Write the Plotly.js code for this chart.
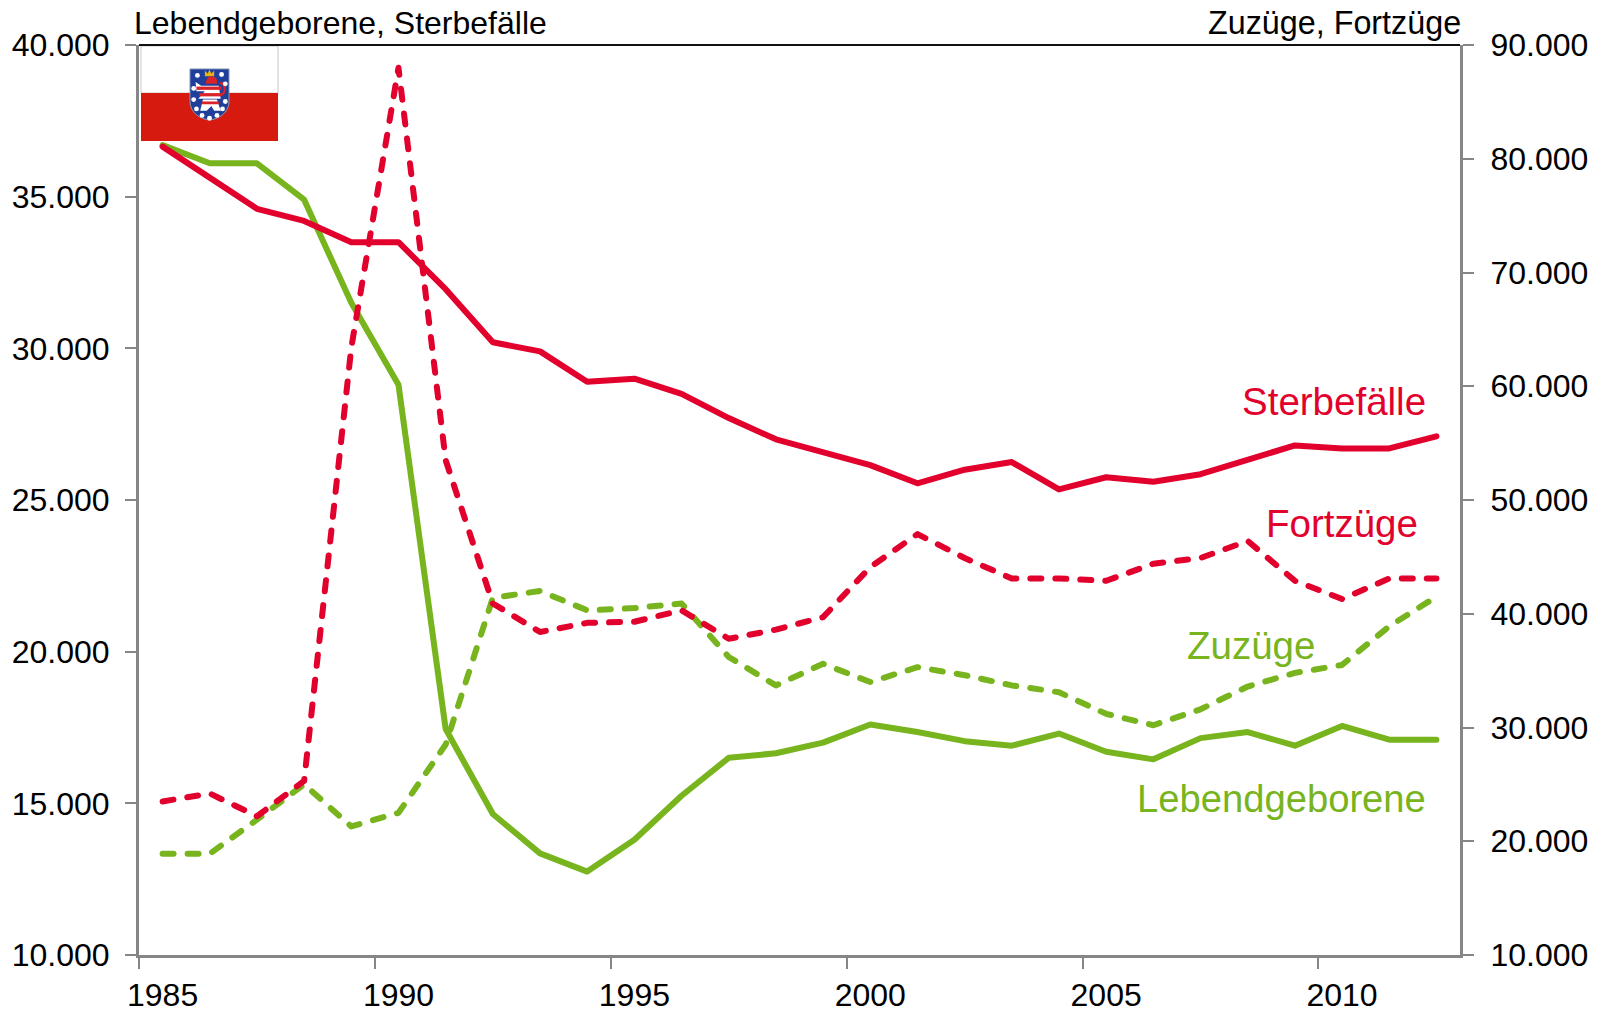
<!DOCTYPE html>
<html><head><meta charset="utf-8">
<script src="https://cdn.plot.ly/plotly-3.0.1.min.js"></script>
<style>html,body{margin:0;padding:0;background:#fff}
.scatterlayer .js-line{stroke-linecap:round;stroke-linejoin:round}</style></head>
<body><div id="chart" style="width:1605px;height:1012px"></div>
<script>
const years = [1985,1986,1987,1988,1989,1990,1991,1992,1993,1994,1995,1996,1997,1998,1999,2000,2001,2002,2003,2004,2005,2006,2007,2008,2009,2010,2011,2012].map(String);
const lebendgeborene = [36700,36100,36100,34900,31500,28800,17450,14650,13350,12750,13800,15250,16500,16650,17000,17600,17350,17050,16900,17300,16700,16450,17150,17350,16900,17550,17100,17100];
const sterbefaelle = [36650,35650,34600,34200,33500,33500,31950,30200,29900,28900,29000,28500,27700,27000,26600,26150,25550,26000,26250,25350,25750,25600,25850,26300,26800,26700,26700,27100];
const zuzuege = [18900,18900,21900,25000,21300,22500,28500,41400,42000,40300,40500,40900,36200,33700,35600,34000,35300,34600,33700,33100,31200,30200,31600,33600,34800,35500,38900,41500];
const fortzuege = [23500,24200,22200,25300,63400,88000,53500,40900,38400,39200,39300,40300,37800,38600,39700,44100,47000,44900,43100,43100,42900,44400,44900,46400,42900,41300,43100,43100];
const leftTicks = [10000,15000,20000,25000,30000,35000,40000];
const rightTicks = [10000,20000,30000,40000,50000,60000,70000,80000,90000];
const fmt = v => String(v).replace(/(\d)(\d{3})$/, '$1.$2');
const RED = '#e2002d', GREEN = '#78b41e', GRAY = '#868686';
const FONT = 'Liberation Sans, Arial, sans-serif';
const W = 1605, H = 1012, L = 139, R = 1460, T = 45, B = 955;
const px = x => (x - L) / (R - L), py = y => (B - y) / (B - T);

const dots = [[9,8],[35,7],[39,17],[5,22],[39,36],[5,34],[8,44],[36,44],[14,51],[30,51],[22,54]];
const coat = `<svg xmlns="http://www.w3.org/2000/svg" width="41" height="53" viewBox="0 0 44 57">
<path d="M1 1H43V36C43 48 32 55 22 56C12 55 1 48 1 36Z" fill="#1f3f9a" stroke="#8f9bb8" stroke-width="1"/>
<path d="M17 9L17 3L20 6L22 2L24 6L27 3L27 9Z" fill="#e3b21e"/>
<path d="M24 9C29 9 31 13 30 17H18C18 13 20 9 24 9Z" fill="#d8232a"/>
<path d="M7 15L13 19H32L34 33H10L17 25H8Z" fill="#fff"/>
<rect x="8" y="20" width="27" height="3.5" fill="#d8232a"/>
<rect x="11" y="27" width="24" height="3.5" fill="#d8232a"/>
<path d="M15 34H30L34 46H27L24 41L19 46H12Z" fill="#fff"/>
<rect x="14" y="36" width="18" height="3" fill="#d8232a"/>
<path d="M33 16C41 17 39 28 34 29" fill="none" stroke="#d8232a" stroke-width="2.5"/>
${dots.map(d => `<circle cx="${d[0]}" cy="${d[1]}" r="2.6" fill="#fff"/>`).join('')}
</svg>`;

const line = (name, y, color, dash, yaxis) => ({type:'scatter', mode:'lines', name, x:years, y, yaxis, hoverinfo:'skip',
  line:{color, width:6, dash, shape:'linear'}});
const traces = [
  line('Zuzüge', zuzuege, GREEN, '11px,14px', 'y2'),
  line('Fortzüge', fortzuege, RED, '11px,14px', 'y2'),
  line('Lebendgeborene', lebendgeborene, GREEN, 'solid', 'y'),
  line('Sterbefälle', sterbefaelle, RED, 'solid', 'y')
];
const tf = {family:FONT, size:32, color:'#000'};
const label = (text, xp, yp, color, size) => ({text, xref:'paper', yref:'paper', x:px(xp), y:py(yp), xanchor:'right', yanchor:'middle', showarrow:false, font:{family:FONT, size, color}});
const layout = {
  width:W, height:H, autosize:false, showlegend:false, paper_bgcolor:'#fff', plot_bgcolor:'rgba(0,0,0,0)',
  margin:{l:L, r:W-R, t:T, b:H-B, pad:0},
  xaxis:{type:'category', range:[-0.5,27.5], tickmode:'linear', tick0:0, dtick:5, tickson:'boundaries', tickangle:0, ticks:'outside', ticklen:11, tickwidth:2, tickcolor:GRAY,
    showline:true, linecolor:GRAY, linewidth:3, showgrid:false, zeroline:false, tickfont:tf, ticklabelstandoff:10},
  yaxis:{range:[10000,40000], tickvals:leftTicks, ticktext:leftTicks.map(fmt), ticks:'outside', ticklen:11, tickwidth:2, tickcolor:GRAY,
    showline:true, linecolor:GRAY, linewidth:3, showgrid:false, zeroline:false, tickfont:tf, ticklabelstandoff:9},
  yaxis2:{range:[10000,90000], overlaying:'y', side:'right', tickvals:rightTicks, ticktext:rightTicks.map(fmt), ticks:'outside', ticklen:11, tickwidth:2, tickcolor:GRAY,
    showline:true, linecolor:GRAY, linewidth:3, showgrid:false, zeroline:false, tickfont:tf, ticklabelstandoff:10},
  shapes:[
    {type:'line', xref:'paper', yref:'paper', x0:0, x1:1, y0:1, y1:1, line:{color:'#111', width:2}, layer:'above'},
    {type:'rect', xref:'paper', yref:'paper', x0:px(141), x1:px(278), y0:py(46), y1:py(93), fillcolor:'#fff', line:{color:'#c8c8c8', width:1}, layer:'below'},
    {type:'rect', xref:'paper', yref:'paper', x0:px(141), x1:px(278), y0:py(93), y1:py(141), fillcolor:'#d71a10', line:{width:0}, layer:'below'}
  ],
  images:[{source:'data:image/svg+xml;charset=utf-8,'+encodeURIComponent(coat), xref:'paper', yref:'paper', x:px(189), y:py(68), sizex:41/(R-L), sizey:53/(B-T), xanchor:'left', yanchor:'top', sizing:'stretch', layer:'above'}],
  annotations:[
    {text:'Lebendgeborene, Sterbefälle', xref:'paper', yref:'paper', x:px(132), y:py(23), xanchor:'left', yanchor:'middle', showarrow:false, font:{family:FONT, size:32, color:'#000'}},
    {text:'Zuzüge, Fortzüge', xref:'paper', yref:'paper', x:px(1463), y:py(23), xanchor:'right', yanchor:'middle', showarrow:false, font:{family:FONT, size:32.3, color:'#000'}},
    label('Sterbefälle', 1428, 401, RED, 38.5),
    label('Fortzüge', 1420, 523, RED, 38.5),
    label('Zuzüge', 1317, 645, GREEN, 38.5),
    label('Lebendgeborene', 1428, 798, GREEN, 38.2)
  ]
};
Plotly.newPlot('chart', traces, layout, {staticPlot:true, displayModeBar:false});
</script></body></html>
